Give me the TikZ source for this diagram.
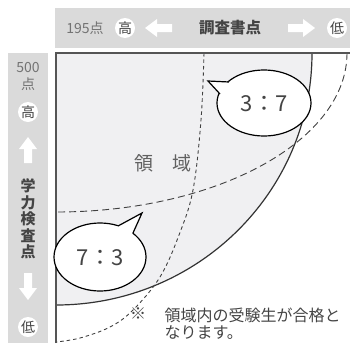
\documentclass[tikz,border=0pt]{standalone}
\usepackage{fontspec}
\setmainfont{Noto Sans CJK JP}
\definecolor{barg}{HTML}{DADADA}
\definecolor{areag}{HTML}{F0F0F2}
\definecolor{txtg}{HTML}{444444}
\definecolor{lineg}{HTML}{555555}
\tikzset{
  fs/.style={font=\fontsize{#1}{#1}\selectfont},
  mark circ/.style={circle, fill=white, inner sep=0pt, minimum size=20pt, text=txtg, fs=14},
  blockarrow/.style={fill=white, draw=none},
  arcline/.style={draw=black!80, line width=1.2pt},
  longdash/.style={draw=black!75, line width=0.9pt, dash pattern=on 7pt off 4pt},
  shortdash/.style={draw=black!75, line width=0.9pt, dash pattern=on 3.5pt off 3pt},
  bubble/.style={draw=black, line width=1.2pt, fill=white},
}
\begin{document}
\begin{tikzpicture}[x=1pt,y=-1pt]
\useasboundingbox (0,0) rectangle (350,343);
% bars
\fill[barg] (55,8) rectangle (350,48);
\fill[barg] (8,53) rectangle (48,343);
% plot area
\begin{scope}
  \clip (56,53) rectangle (350,343);
  \fill[areag] (56,53) ellipse [x radius=256, y radius=252];
  \draw[arcline] (56,53) ellipse [x radius=256, y radius=252];
  \draw[longdash] (56,53) ellipse [x radius=291, y radius=159];
  \draw[shortdash] plot[smooth, tension=0.6] coordinates {(204,53) (201,120) (193,190) (179,235) (160,277) (133,310) (110,327) (80,338) (56,342)};
\end{scope}
\draw[lineg, line width=1.6pt] (56,343) -- (56,53) -- (350,53);
% top bar contents
\node[fs=14, text=black!55] (pts) at (85,28) {195点};
\node[mark circ] (hiA) at (125,28) {高};
\fill[blockarrow] (145,28) -- (157,19) -- (157,24) -- (172,24) -- (172,32) -- (157,32) -- (157,37) -- cycle;
\node[text=txtg, font=\bfseries\fontsize{15.5}{15.5}\selectfont] (chosa) at (230,28) {調査書点};
\fill[blockarrow] (315,28) -- (303,19) -- (303,24) -- (288,24) -- (288,32) -- (303,32) -- (303,37) -- cycle;
\node[mark circ] (loA) at (337,28) {低};
% left bar contents
\node[fs=14, text=black!55] (n500) at (28,68) {500};
\node[fs=14, text=black!55] (ten) at (28,84) {点};
\node[mark circ] (hiB) at (28,112) {高};
\fill[blockarrow] (28,137) -- (19,149) -- (24,149) -- (24,163) -- (32,163) -- (32,149) -- (37,149) -- cycle;
\node[text=txtg, align=center, font=\bfseries\fontsize{15}{16.5}\selectfont] (gaku) at (28,219) {学\\力\\検\\査\\点};
\fill[blockarrow] (28,300) -- (19,288) -- (24,288) -- (24,273) -- (32,273) -- (32,288) -- (37,288) -- cycle;
\node[mark circ] (loB) at (28,327) {低};
% region label
\node[fs=19, text=black!62] (ryo) at (163,163) {領　域};
% bubble 3:7
\draw[bubble] (264,103) ellipse [x radius=47, y radius=33];
\fill[white] (229,82) -- (208,81) -- (220,94) -- (250,100) -- cycle;
\draw[draw=black, line width=1.2pt, line join=miter] (229,82) -- (208,81) -- (220,94);
\node[fs=22, text=txtg] (b37) at (264,104) {3：7};
% bubble 7:3
\draw[bubble] (100,257) ellipse [x radius=46, y radius=34];
\fill[white] (118,226) -- (142,213) -- (133,233) -- (105,250) -- cycle;
\draw[draw=black, line width=1.2pt, line join=miter] (118,226) -- (142,213) -- (133,233);
\node[fs=22, text=txtg] (b73) at (100,258) {7：3};
% note
\node[fs=16, text=txtg] (kome) at (138,314) {※};
\node[text=txtg, anchor=west, align=left, font=\fontsize{16}{17}\selectfont] (note) at (161,324) {領域内の受験生が合格と\\なります。};
\end{tikzpicture}
\end{document}
